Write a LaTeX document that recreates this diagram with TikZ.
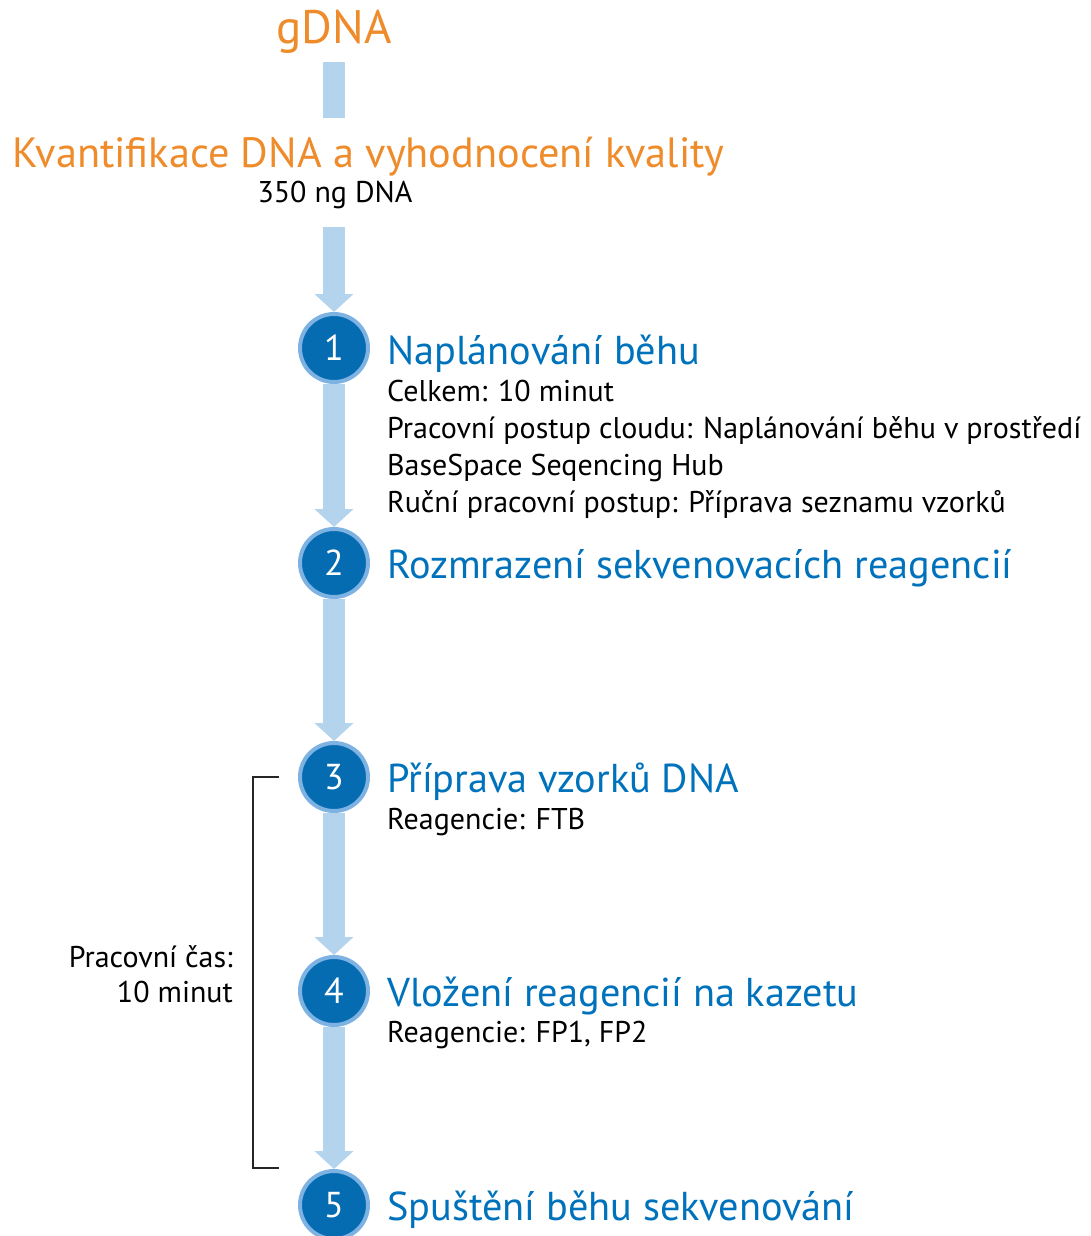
\documentclass[tikz,border=0pt]{standalone}
\usepackage{fontspec}
\setmainfont{PT Sans}
\usetikzlibrary{arrows.meta,backgrounds}
\definecolor{ilorange}{RGB}{238,139,43}
\definecolor{ilblue}{RGB}{0,114,188}
\definecolor{circdark}{RGB}{6,108,178}
\definecolor{circring}{RGB}{125,178,226}
\definecolor{shaftblue}{RGB}{180,212,238}
\tikzset{
  orangetxt/.style={inner sep=0pt, text=ilorange, font=\fontsize{42.3}{50}\selectfont},
  bodytxt/.style={inner sep=0pt, text=black, font=\fontsize{30}{36}\selectfont},
  headtxt/.style={inner sep=0pt, text=ilblue, font=\fontsize{40.3}{48}\selectfont},
  stepcircle/.style={circle, inner sep=0pt, minimum size=68pt, line width=4pt, draw=circring, fill=circdark, text=white, font=\fontsize{36}{42}\selectfont},
  shaft/.style={draw=shaftblue, line width=22pt, line cap=butt},
  flow/.style={shaft, -{Triangle[width=38pt,length=18pt]}},
  bracket/.style={draw=black!85, line width=2pt}
}
\begin{document}
\begin{tikzpicture}[x=1pt,y=-1pt]
\useasboundingbox (0,0) rectangle (1091,1236);
% top texts
\node[orangetxt, anchor=base, font=\fontsize{47}{54}\selectfont] (gdna) at (334,44) {gDNA};
\node[orangetxt, anchor=base west] (kv) at (12,167) {Kvantifikace DNA a vyhodnocení kvality};
\node[bodytxt, anchor=base] (ng) at (335,202) {350 ng DNA};
% circles
\node[stepcircle] (c1) at (334,348) {1};
\node[stepcircle] (c2) at (334,563) {2};
\node[stepcircle] (c3) at (334,777) {3};
\node[stepcircle] (c4) at (334,991) {4};
\node[stepcircle] (c5) at (334,1205) {5};
% step texts
\node[headtxt, anchor=base west] (h1) at (387,364) {Naplánování běhu};
\node[bodytxt, anchor=base west] (d1a) at (387,401) {Celkem: 10 minut};
\node[bodytxt, anchor=base west] (d1b) at (387,438) {Pracovní postup cloudu: Naplánování běhu v prostředí};
\node[bodytxt, anchor=base west] (d1c) at (387,475) {BaseSpace Seqencing Hub};
\node[bodytxt, anchor=base west] (d1d) at (387,512) {Ruční pracovní postup: Příprava seznamu vzorků};
\node[headtxt, anchor=base west] (h2) at (387,578) {Rozmrazení sekvenovacích reagencií};
\node[headtxt, anchor=base west] (h3) at (387,792) {Příprava vzorků DNA};
\node[bodytxt, anchor=base west] (d3) at (387,829) {Reagencie: FTB};
\node[headtxt, anchor=base west] (h4) at (387,1006) {Vložení reagencií na kazetu};
\node[bodytxt, anchor=base west] (d4) at (387,1042) {Reagencie: FP1, FP2};
\node[headtxt, anchor=base west] (h5) at (387,1220) {Spuštění běhu sekvenování};
% working time
\node[bodytxt, anchor=base east] (pc1) at (233,967) {Pracovní čas:};
\node[bodytxt, anchor=base east] (pc2) at (233,1002) {10 minut};
\coordinate (bt) at (279,777);
\coordinate (bb) at (279,1168);
\draw[bracket] (bt) -- ++(-26,0) |- (bb);
% connectors
\begin{scope}[on background layer]
\draw[shaft, shorten <=8pt, shorten >=18pt] (gdna.south) -- (kv.north -| gdna.south);
\draw[flow, shorten <=18pt] (ng.south -| c1.north) -- (c1.north);
\draw[flow] (c1) -- (c2.north);
\draw[flow] (c2) -- (c3.north);
\draw[flow] (c3) -- (c4.north);
\draw[flow] (c4) -- (c5.north);
\end{scope}
\end{tikzpicture}
\end{document}
